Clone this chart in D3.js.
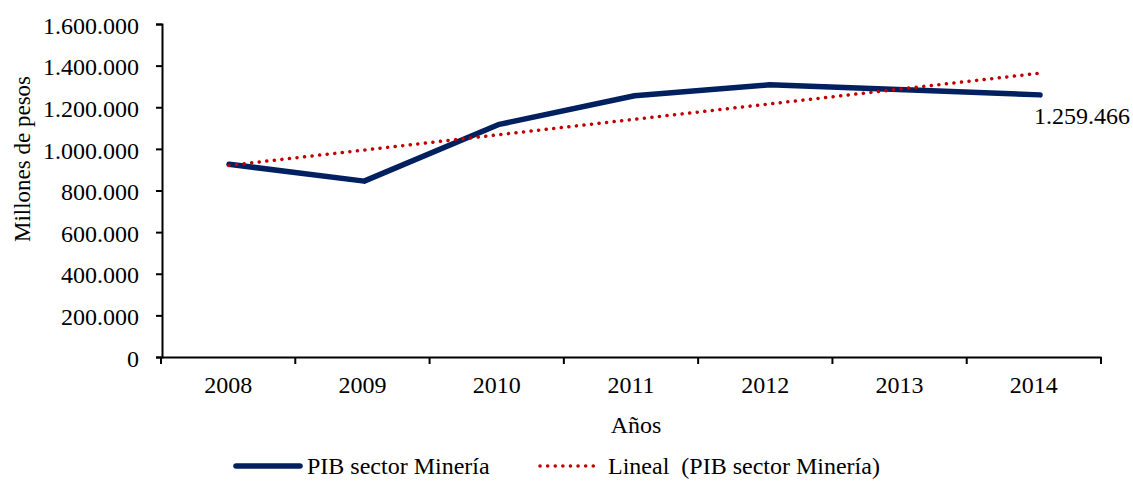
<!DOCTYPE html>
<html><head><meta charset="utf-8">
<script src="https://cdn.jsdelivr.net/npm/d3@7"></script>
<style>
body{margin:0;background:#fff;}
text{font-family:"Liberation Serif","Times New Roman",serif;fill:#000;}
</style></head>
<body><svg id="c" width="1133" height="487"></svg>
<script>
const years = ["2008","2009","2010","2011","2012","2013","2014"];
const pibMineria = [926000, 845000, 1118000, 1255000, 1308000, 1284000, 1259466];
const yTicks = [0,200000,400000,600000,800000,1000000,1200000,1400000,1600000];
const seriesName = "PIB sector Minería";
const trendName = "Lineal  (PIB sector Minería)";
const lastLabel = "1.259.466";

const svg = d3.select("#c");
const fmt = v => d3.format(",")(v).replace(/,/g,".");
const FS = "24px";

const x = d3.scaleBand().domain(years).range([161,1101]);
const xp = d3.scalePoint().domain(years).range([229,1040]);
const y = d3.scaleLinear().domain([0,1600000]).range([357,24]);

// trend (least squares)
const n = pibMineria.length;
const mx = d3.mean(d3.range(n)), my = d3.mean(pibMineria);
const slope = d3.sum(pibMineria.map((v,i)=>(i-mx)*(v-my))) / d3.sum(d3.range(n).map(i=>(i-mx)*(i-mx)));
const trend = d3.range(n).map(i => my + slope*(i-mx));

// axes
const ya = svg.append("g").attr("transform","translate(162,0)")
  .call(d3.axisLeft(y).tickValues(yTicks).tickFormat(v=>v===0?"0":fmt(v)).tickSizeOuter(0).tickSize(6).tickPadding(17));
const xa = svg.append("g").attr("transform","translate(0,357)")
  .call(d3.axisBottom(x).tickSize(0).tickPadding(19));
[ya,xa].forEach(g=>{
  g.attr("font-family",null).attr("font-size",null);
  g.select(".domain").attr("stroke","#000").attr("stroke-width",2);
  g.selectAll("line").attr("stroke","#000").attr("stroke-width",2);
  g.selectAll("text").style("font-family","'Liberation Serif'").style("font-size",FS).attr("fill","#000");
});
ya.selectAll("text").attr("dy","0.38em");
// x boundary ticks
xa.selectAll(".bt").data(years.concat(["end"])).enter().append("line")
  .attr("x1",(d,i)=> i<years.length? x(d): x.range()[1]).attr("x2",(d,i)=> i<years.length? x(d): x.range()[1])
  .attr("y1",0).attr("y2",7).attr("stroke","#000").attr("stroke-width",2);

// series line
svg.append("path").datum(pibMineria)
  .attr("d", d3.line().x((d,i)=>xp(years[i])).y(d=>y(d)))
  .attr("fill","none").attr("stroke","#002060").attr("stroke-width",5.5)
  .attr("stroke-linejoin","round").attr("stroke-linecap","round");

// trend line
svg.append("path").datum(trend)
  .attr("d", d3.line().x((d,i)=>xp(years[i])).y(d=>y(d)))
  .attr("fill","none").attr("stroke","#C00000").attr("stroke-width",3.5)
  .attr("stroke-dasharray","0.1 7.5").attr("stroke-linecap","round");

// data label
svg.append("text").attr("x",xp("2014")-6).attr("y",y(pibMineria[n-1])+29)
  .style("font-size",FS).text(lastLabel);

// axis titles
svg.append("text").attr("transform","translate(30,159) rotate(-90)").attr("text-anchor","middle")
  .style("font-size","23px").text("Millones de pesos");
svg.append("text").attr("x",636).attr("y",433).attr("text-anchor","middle")
  .style("font-size",FS).text("Años");

// legend
const lg = svg.append("g");
lg.append("line").attr("x1",236).attr("x2",300).attr("y1",466).attr("y2",466)
  .attr("stroke","#002060").attr("stroke-width",5.5).attr("stroke-linecap","round");
lg.append("text").attr("x",307).attr("y",474).style("font-size",FS).text(seriesName);
lg.append("line").attr("x1",540).attr("x2",600).attr("y1",466).attr("y2",466)
  .attr("stroke","#C00000").attr("stroke-width",3.5).attr("stroke-dasharray","0.1 7.5").attr("stroke-linecap","round");
lg.append("text").attr("x",608).attr("y",474).style("font-size",FS).style("white-space","pre").text(trendName);
</script></body></html>
